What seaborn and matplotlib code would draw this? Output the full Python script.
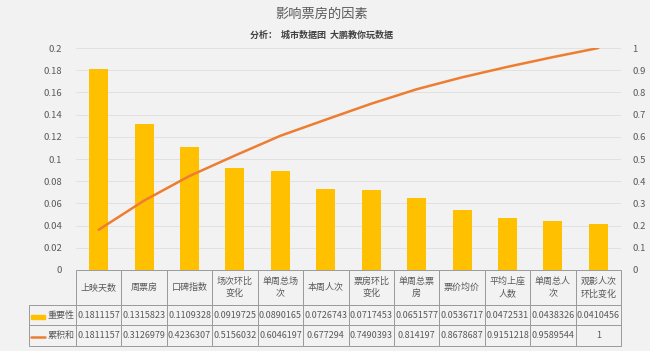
import numpy as np
import pandas as pd
import matplotlib
matplotlib.use("Agg")
from matplotlib import pyplot as plt
from matplotlib.patches import Rectangle
from matplotlib.lines import Line2D
from matplotlib.ticker import FuncFormatter
import seaborn as sns

factors = ["上映天数", "周票房", "口碑指数", "场次环比变化", "单周总场次", "本周人次",
           "票房环比变化", "单周总票房", "票价均价", "平均上座人数", "单周总人次", "观影人次环比变化"]
header_labels = ["上映天数", "周票房", "口碑指数", "场次环比\n变化", "单周总场\n次", "本周人次",
                 "票房环比\n变化", "单周总票\n房", "票价均价", "平均上座\n人数", "单周总人\n次", "观影人次\n环比变化"]
importance = [0.1811157, 0.1315823, 0.1109328, 0.0919725, 0.0890165, 0.0726743,
              0.0717453, 0.0651577, 0.0536717, 0.0472531, 0.0438326, 0.0410456]
cumulative = [0.1811157, 0.3126979, 0.4236307, 0.5156032, 0.6046197, 0.677294,
              0.7490393, 0.814197, 0.8678687, 0.9151218, 0.9589544, 1.0]
series_names = ["重要性", "累积和"]

bg = "#f2f2f2"
bar_color = "#FFC000"
line_color = "#ED7D31"
txt = "#595959"

sns.set_style("white", {"axes.facecolor": bg, "figure.facecolor": bg})
plt.rcParams["font.family"] = ["Noto Sans CJK SC", "DejaVu Sans"]

df = pd.DataFrame({"factor": factors, "importance": importance,
                   "cumulative": cumulative, "pos": np.arange(len(factors))})

fig = plt.figure(figsize=(6.5, 3.51), dpi=100)
ax = fig.add_axes([0.1169, 0.2308, 0.8385, 0.6324])

sns.barplot(data=df, x="factor", y="importance", order=factors, color=bar_color,
            saturation=1, width=0.42, linewidth=0, ax=ax, zorder=2)
ax.set_xlim(-0.5, len(factors) - 0.5)
ax.set_ylim(0, 0.2)
ax.set_yticks(np.arange(0, 0.201, 0.02))
ax.yaxis.set_major_formatter(FuncFormatter(lambda v, p: f"{v:g}"))
ax.grid(axis="y", color="#dedede", linewidth=0.6, zorder=0)
ax.set_axisbelow(True)
ax.tick_params(axis="y", length=0, labelsize=6.8, labelcolor=txt, pad=10)
ax.tick_params(axis="x", length=0, labelbottom=False)
ax.set_xlabel("")
ax.set_ylabel("")
for s in ax.spines.values():
    s.set_visible(False)

ax2 = ax.twinx()
sns.lineplot(data=df, x="pos", y="cumulative", color=line_color, linewidth=1.8, ax=ax2)
ax2.set_xlim(-0.5, len(factors) - 0.5)
ax2.set_ylim(0, 1)
ax2.set_yticks(np.arange(0, 1.001, 0.1))
ax2.yaxis.set_major_formatter(FuncFormatter(lambda v, p: f"{v:g}"))
ax2.tick_params(axis="y", length=0, labelsize=6.8, labelcolor=txt, pad=8)
ax2.set_xlabel("")
ax2.set_ylabel("")
for s in ax2.spines.values():
    s.set_visible(False)


def fmt(v):
    return f"{v:.7f}".rstrip("0").rstrip(".")


cells = [[""] + header_labels,
         [series_names[0]] + [fmt(v) for v in importance],
         [series_names[1]] + [fmt(v) for v in cumulative]]
widths = [47] + [45.4] * len(factors)
tbl = ax.table(cellText=cells, colWidths=widths, cellLoc="center",
               bbox=[-0.0862, -0.342, 1.0862, 0.342])
tbl.auto_set_font_size(False)
tbl.set_fontsize(6.5)
for (r, c), cell in tbl.get_celld().items():
    cell.set_facecolor(bg)
    cell.set_edgecolor("#9a9a9a")
    cell.set_linewidth(0.7)
    cell.get_text().set_color(txt)
    cell.set_height(35 if r == 0 else 20.5)
    if r == 0 and c == 0:
        cell.visible_edges = ""
    if r > 0 and c == 0:
        cell.get_text().set_horizontalalignment("right")
        cell.PAD = 0.03
    if r == 0:
        cell.get_text().set_linespacing(1.5)

# legend keys inside the table row labels
ax.add_patch(Rectangle((-0.0826, -0.2207), 0.0257, 0.018, transform=ax.transAxes,
                       color=bar_color, clip_on=False))
ax.add_line(Line2D([-0.0826, -0.0569], [-0.302, -0.302], transform=ax.transAxes,
                   color=line_color, linewidth=1.8, clip_on=False))

fig.text(0.495, 0.96, "影响票房的因素", ha="center", va="center", fontsize=9.5, color=txt)
fig.text(0.495, 0.90, "分析：  城市数据团  大鹏教你玩数据", ha="center", va="center",
         fontsize=6.5, color="#404040", fontweight="bold")

fig.savefig("out.png", dpi=100, facecolor=bg)
